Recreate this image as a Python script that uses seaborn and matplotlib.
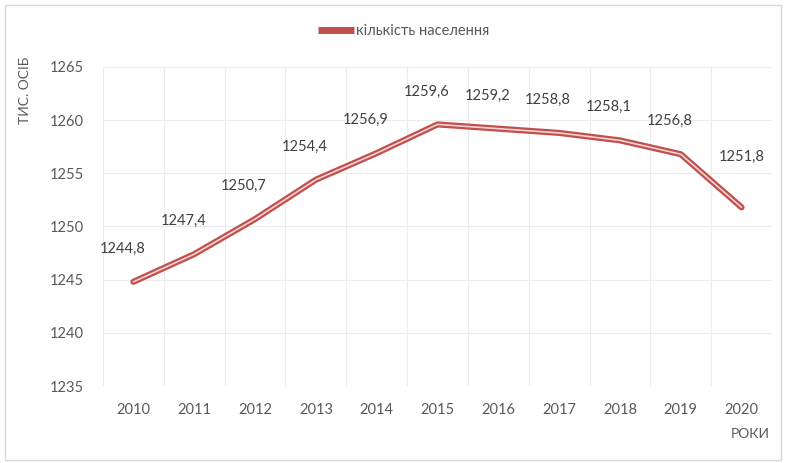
import matplotlib
matplotlib.use("Agg")
import matplotlib.pyplot as plt
from matplotlib.patches import Rectangle
from matplotlib.lines import Line2D
import numpy as np
import pandas as pd
import seaborn as sns

sns.set_theme(style="white")
plt.rcParams['font.family'] = ['Lato', 'DejaVu Sans']

years = ["2010", "2011", "2012", "2013", "2014", "2015", "2016", "2017", "2018", "2019", "2020"]
population = [1244.8, 1247.4, 1250.7, 1254.4, 1256.9, 1259.6, 1259.2, 1258.8, 1258.1, 1256.8, 1251.8]
value_labels = ["1244,8", "1247,4", "1250,7", "1254,4", "1256,9", "1259,6", "1259,2", "1258,8", "1258,1", "1256,8", "1251,8"]
series_name = "кількість населення"
y_ticks = [1235, 1240, 1245, 1250, 1255, 1260, 1265]

df = pd.DataFrame({"pos": np.arange(len(years)), "value": population})

outer = "#c0504d"
inner = "#f6d3d2"

fig = plt.figure(figsize=(7.87, 4.63), dpi=100)
ax = fig.add_axes([0.1309, 0.1663, 0.850, 0.689])

# double-line look: thick dark red with a thin pale core
sns.lineplot(data=df, x="pos", y="value", ax=ax, color=outer, linewidth=4.4, legend=False)
sns.lineplot(data=df, x="pos", y="value", ax=ax, color=inner, linewidth=1.2, legend=False)

ax.set_xlim(-0.5, len(years) - 0.5)
ax.set_ylim(1235, 1265)
ax.set_xticks(np.arange(len(years)))
ax.set_xticklabels(years)
ax.set_yticks(y_ticks)
ax.set_xticks(np.arange(-0.5, len(years)), minor=True)
ax.grid(False)
ax.grid(True, which="minor", axis="x", color="#ececec", linewidth=0.8)
ax.grid(True, which="major", axis="y", color="#ececec", linewidth=0.8)
ax.tick_params(which="both", length=0)
ax.tick_params(axis="x", colors="#595959", labelsize=10.5, pad=12)
ax.tick_params(axis="y", colors="#595959", labelsize=10.5, pad=14)
for s in ax.spines.values():
    s.set_visible(False)
ax.set_xlabel("")
ax.set_ylabel("")

for i, (v, lab) in enumerate(zip(population, value_labels)):
    dy = 50 if i == len(years) - 1 else 33
    dx = 0 if i == len(years) - 1 else -11
    ax.annotate(lab, (i, v), xytext=(dx, dy), textcoords="offset pixels",
                ha="center", va="center", fontsize=10.5, color="#404040")

fig.text(25 / 787, 1 - 90 / 463, "ТИС. ОСІБ", rotation=90, ha="center", va="center",
         fontsize=10, color="#595959")
fig.text(770 / 787, 1 - 434 / 463, "РОКИ", ha="right", va="center",
         fontsize=10, color="#595959")

h_outer = Line2D([], [], color=outer, linewidth=5, solid_capstyle="butt")
fig.legend(handles=[h_outer], labels=[series_name], loc="center",
           bbox_to_anchor=(0.513, 1 - 31 / 463), frameon=False, fontsize=10.5,
           handlelength=2.5, handletextpad=0.15, labelcolor="#595959")

fig.patches.append(Rectangle((5 / 787, 3 / 463), 776 / 787, 455 / 463, transform=fig.transFigure,
                             fill=False, edgecolor="#d9d9d9", linewidth=1))

fig.savefig("out.png", dpi=100)
